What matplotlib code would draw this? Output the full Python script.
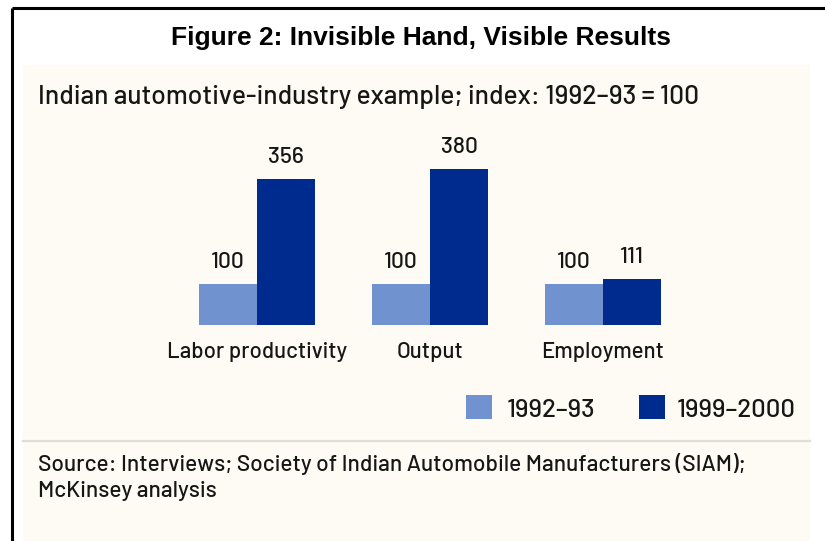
import matplotlib
matplotlib.use("Agg")
import matplotlib.pyplot as plt
from matplotlib.patches import Rectangle
import numpy as np

# data
categories = ["Labor productivity", "Output", "Employment"]
series_names = ["1992\u201393", "1999\u20132000"]
base_values = [100, 100, 100]
later_values = [356, 380, 111]

LIGHT = "#7092cf"
DARK = "#002b8e"
CREAM = "#fdfbf4"
INK = "#161616"
FONT = ["Barlow", "Barlow Semi Condensed", "DejaVu Sans"]
WT = "medium"

W, H = 825, 541
PT = 72 / 100  # points per pixel at dpi 100
fig = plt.figure(figsize=(W / 100, H / 100), dpi=100)
fig.patch.set_facecolor("white")

# page decorations, in pixel coordinates
bg = fig.add_axes([0, 0, 1, 1])
bg.set_xlim(0, W); bg.set_ylim(H, 0); bg.axis("off")
bg.add_patch(Rectangle((23, 65), 787, H - 65, facecolor=CREAM, edgecolor="none"))
bg.plot([12, W], [8, 8], color="black", lw=2.2, solid_capstyle="butt")
bg.plot([12, 12], [8, H], color="black", lw=2.2, solid_capstyle="butt")
bg.plot([23, 810], [441, 441], color="#e2ded6", lw=1.6)

bg.text(421, 38, "Figure 2: Invisible Hand, Visible Results", ha="center", va="center",
        fontsize=19, fontweight="bold", family="Liberation Sans")
bg.text(38, 104, "Indian automotive-industry example; index: 1992\u201393 = 100",
        ha="left", va="baseline", fontsize=19, fontweight=WT, family=FONT, color=INK)
bg.text(38, 471, "Source: Interviews; Society of Indian Automobile Manufacturers (SIAM);",
        ha="left", va="baseline", fontsize=16.3, fontweight=WT, family=FONT, color=INK)
bg.text(38, 497, "McKinsey analysis", ha="left", va="baseline", fontsize=16.3,
        fontweight=WT, family=FONT, color=INK)

# legend
for (sx, tx), name, col in zip([(466, 507), (639, 677)], series_names, [LIGHT, DARK]):
    bg.add_patch(Rectangle((sx, 395), 26, 24, facecolor=col, edgecolor="none"))
    bg.text(tx, 417, name, ha="left", va="baseline", fontsize=18.5, fontweight=WT,
            family=FONT, color=INK)

# bar chart: baseline at y=325 px, 100 index points ~ 41 px
ax = fig.add_axes([170.5 / W, (H - 325) / H, 519 / W, 164 / H])
ax.patch.set_alpha(0)
x = np.arange(len(categories))
bw = 0.335
b1 = ax.bar(x - bw / 2, base_values, bw, color=LIGHT, linewidth=0)
b2 = ax.bar(x + bw / 2, later_values, bw, color=DARK, linewidth=0)
ax.set_xlim(-0.5, len(categories) - 0.5)
ax.set_ylim(0, 400)
ax.axis("off")

for bars in (b1, b2):
    for r in bars:
        ax.annotate(f"{r.get_height():.0f}", (r.get_x() + r.get_width() / 2, r.get_height()),
                    xytext=(0, 16 * PT), textcoords="offset points", ha="center",
                    va="baseline", fontsize=16.5, fontweight=WT, family=FONT, color=INK,
                    annotation_clip=False)

for xi, cat in zip(x, categories):
    ax.annotate(cat, (xi, 0), xytext=(0, -33 * PT), textcoords="offset points",
                ha="center", va="baseline", fontsize=16, fontweight=WT, family=FONT,
                color=INK, annotation_clip=False)

fig.savefig("out.png", dpi=100)
